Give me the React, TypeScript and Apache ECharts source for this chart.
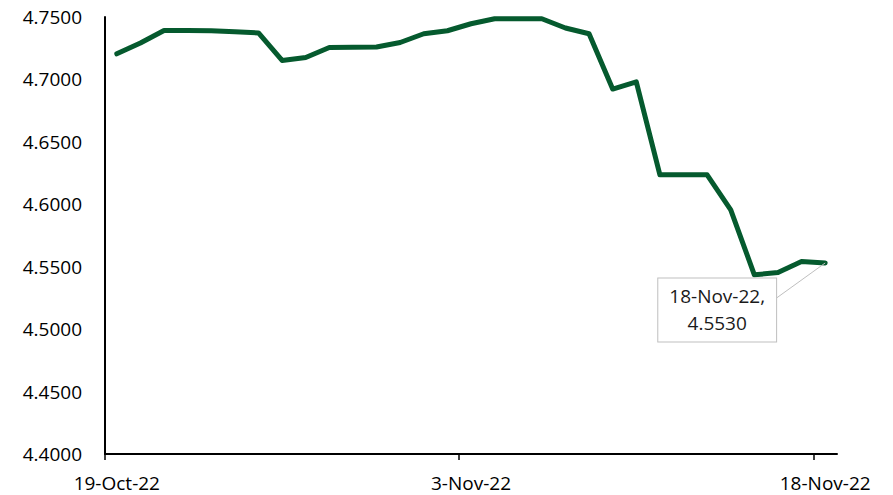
import React, { useEffect, useRef } from 'react';
import * as echarts from 'echarts';

const categories = [
  '19-Oct-22', '20-Oct-22', '21-Oct-22', '22-Oct-22', '23-Oct-22', '24-Oct-22', '25-Oct-22',
  '26-Oct-22', '27-Oct-22', '28-Oct-22', '29-Oct-22', '30-Oct-22', '31-Oct-22', '1-Nov-22',
  '2-Nov-22', '3-Nov-22', '4-Nov-22', '5-Nov-22', '6-Nov-22', '7-Nov-22', '8-Nov-22',
  '9-Nov-22', '10-Nov-22', '11-Nov-22', '12-Nov-22', '13-Nov-22', '14-Nov-22', '15-Nov-22',
  '16-Nov-22', '17-Nov-22', '18-Nov-22',
];

const rates = [
  4.7205, 4.7292, 4.7392, 4.7391, 4.7390, 4.7382, 4.7372,
  4.7152, 4.7176, 4.7256, 4.7258, 4.7260, 4.7296, 4.7366,
  4.7390, 4.7446, 4.7486, 4.7486, 4.7486, 4.7412, 4.7366,
  4.6923, 4.6981, 4.6236, 4.6236, 4.6236, 4.5956, 4.5435,
  4.5453, 4.5541, 4.5530,
];

const tickIndices = [0, 15, 30];
const yMin = 4.4;
const yMax = 4.75;
const yStep = 0.05;

const FONT = '"Open Sans", "Noto Sans", sans-serif';
const LINE_COLOR = '#055A2E';

export default function App() {
  const ref = useRef<HTMLDivElement>(null);

  useEffect(() => {
    if (!ref.current) return;
    const chart = echarts.init(ref.current, undefined, { renderer: 'svg' });
    const lastIdx = rates.length - 1;
    const seriesData = rates.map((v, i) => {
      if (i !== lastIdx) return { value: v };
      return {
        value: v,
        label: {
          show: true,
          position: 'inside',
          offset: [-108, 47],
          formatter: `${categories[i]},\n${v.toFixed(4)}`,
          fontFamily: FONT,
          fontSize: 19,
          lineHeight: 27,
          color: '#1a1a1a',
          backgroundColor: '#ffffff',
          borderColor: '#bfbfbf',
          borderWidth: 1,
          padding: [5, 11, 4, 11],
        },
        labelLine: {
          show: true,
          lineStyle: { color: '#bfbfbf', width: 1 },
        },
      };
    });

    chart.setOption({
      animation: false,
      grid: { left: 105, right: 56, top: 17, bottom: 41, containLabel: false },
      xAxis: [
        {
          type: 'category',
          data: categories,
          boundaryGap: true,
          axisLine: { show: true, lineStyle: { color: '#000', width: 2 } },
          axisTick: { show: false },
          axisLabel: {
            interval: 14,
            margin: 19,
            fontFamily: FONT,
            fontSize: 19,
            color: '#000',
          },
          splitLine: { show: false },
        },
        {
          type: 'value',
          min: 0,
          max: categories.length,
          position: 'bottom',
          axisLine: { show: false },
          axisLabel: { show: false },
          splitLine: { show: false },
          axisTick: {
            show: true,
            customValues: tickIndices,
            length: 6,
            lineStyle: { color: '#000', width: 1.5 },
          },
        },
      ],
      yAxis: {
        type: 'value',
        min: yMin,
        max: yMax,
        interval: yStep,
        axisLine: { show: true, lineStyle: { color: '#000', width: 2 } },
        axisTick: { show: false },
        splitLine: { show: false },
        axisLabel: {
          margin: 23,
          fontFamily: FONT,
          fontSize: 19,
          color: '#000',
          formatter: (v: number) => v.toFixed(4),
        },
      },
      series: [
        {
          type: 'line',
          xAxisIndex: 0,
          data: seriesData,
          symbol: 'circle',
          symbolSize: 0,
          showSymbol: true,
          lineStyle: { color: LINE_COLOR, width: 5, join: 'round', cap: 'round' },
          itemStyle: { color: LINE_COLOR },
          label: { show: false },
          emphasis: { disabled: true },
        },
      ],
    });

    return () => chart.dispose();
  }, []);

  return (
    <div
      ref={ref}
      style={{ position: 'absolute', left: 0, top: 0, width: 893, height: 495, background: '#fff' }}
    />
  );
}
